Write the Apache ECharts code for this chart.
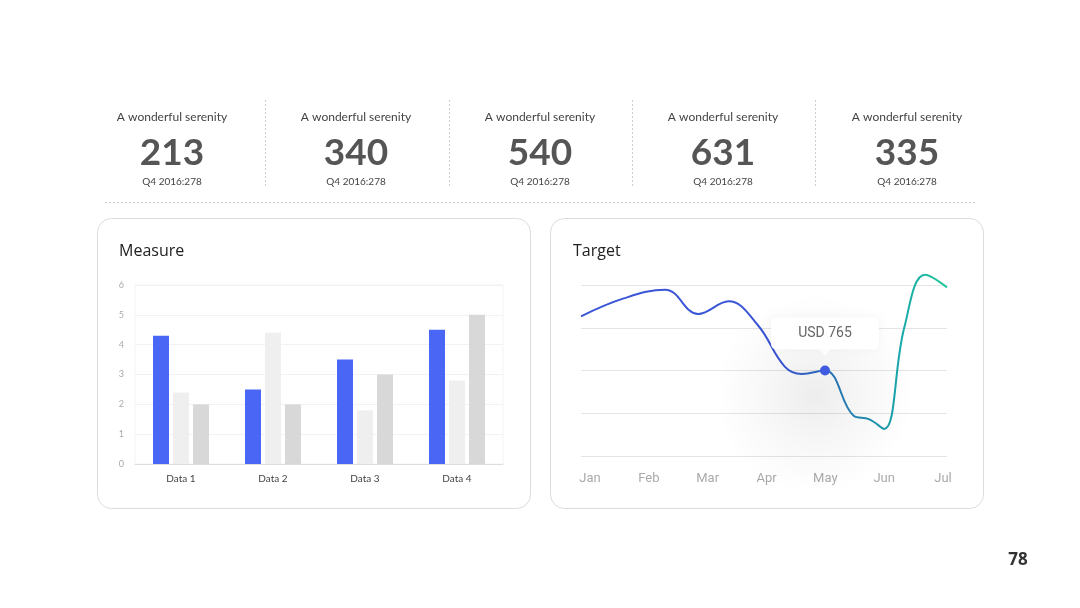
<!doctype html>
<html><head><meta charset="utf-8" />
<style>
  html,body,#app{margin:0;padding:0;width:1080px;height:608px;background:#ffffff}
</style>
<script src="https://cdn.jsdelivr.net/npm/echarts@6/dist/echarts.min.js"></script>
</head><body><div id="app"></div>
<script>
// ---- data ----
const statLabels = ['A wonderful serenity','A wonderful serenity','A wonderful serenity','A wonderful serenity','A wonderful serenity'];
const statValues = ['213','340','540','631','335'];
const statSubs = ['Q4 2016:278','Q4 2016:278','Q4 2016:278','Q4 2016:278','Q4 2016:278'];

const barCategories = ['Data 1','Data 2','Data 3','Data 4'];
const barSeriesA = [4.3, 2.5, 3.5, 4.5];
const barSeriesB = [2.4, 4.4, 1.8, 2.8];
const barSeriesC = [2.0, 2.0, 3.0, 5.0];

const months = ['Jan','Feb','Mar','Apr','May','Jun','Jul'];
// [month position, value]
const targetLine = [
  [0.00,1250],[0.70,1410],[1.38,1488],[1.92,1270],[2.42,1384],[2.90,1170],
  [3.34,800],[3.62,734],[4.0,765],[4.47,360],[4.72,330],[4.97,242],
  [5.30,1150],[5.64,1622],[6.0,1509]
];
const highlightIndex = 8; // May
const pageNumber = '78';

// ---- layout ----
const el = document.getElementById('app');
const chart = echarts.init(el, null, { renderer: 'canvas' });

const graphics = [];
// cards
[[97,218],[550,218]].forEach(function(p){
  graphics.push({ type:'rect', z:-10, shape:{ x:p[0]+0.5, y:p[1]+0.5, width:433, height:290, r:14 },
    style:{ fill:'#ffffff', stroke:'#dcdcdc', lineWidth:1 } });
});
// stats
const colCenters = [172, 356, 540, 723, 907];
statValues.forEach(function(v, i){
  const cx = colCenters[i];
  graphics.push({ type:'text', x:cx, y:117, style:{ text:statLabels[i], align:'center', verticalAlign:'middle',
    font:'12px Lato, "Open Sans", sans-serif', fill:'#444' } });
  graphics.push({ type:'text', x:cx, y:153, style:{ text:v, align:'center', verticalAlign:'middle',
    font:'bold 37px Lato, "Open Sans", sans-serif', fill:'#555' } });
  graphics.push({ type:'text', x:cx, y:182, style:{ text:statSubs[i], align:'center', verticalAlign:'middle',
    font:'10px Lato, "Open Sans", sans-serif', fill:'#444' } });
});
[265, 449, 632, 815].forEach(function(x){
  graphics.push({ type:'line', shape:{ x1:x+0.5, y1:100, x2:x+0.5, y2:188 },
    style:{ stroke:'#cfcfcf', lineWidth:1, lineDash:[2,2] } });
});
graphics.push({ type:'line', shape:{ x1:105, y1:202.5, x2:975, y2:202.5 },
  style:{ stroke:'#cfcfcf', lineWidth:1, lineDash:[2,2] } });
// card titles
graphics.push({ type:'text', x:119, y:251, style:{ text:'Measure', verticalAlign:'middle',
  font:'16px "Open Sans", sans-serif', fill:'#222' } });
graphics.push({ type:'text', x:573, y:251, style:{ text:'Target', verticalAlign:'middle',
  font:'16px "Open Sans", sans-serif', fill:'#222' } });
// page number
graphics.push({ type:'text', x:1018, y:560, style:{ text:pageNumber, align:'center', verticalAlign:'middle',
  font:'bold 17px "Open Sans", sans-serif', fill:'#333' } });

const lineGradient = { type:'linear', x:0, y:0, x2:1, y2:0, colorStops:[
  { offset:0, color:'#3a56d6' }, { offset:0.55, color:'#3a56d6' },
  { offset:0.72, color:'#2580b8' }, { offset:0.86, color:'#17a6ab' }, { offset:1, color:'#22c79a' } ] };
const glow = { type:'radial', x:0.5, y:0.5, r:0.5, colorStops:[
  { offset:0, color:'rgba(0,0,0,0.07)' }, { offset:0.5, color:'rgba(0,0,0,0.03)' }, { offset:1, color:'rgba(0,0,0,0)' } ] };
const hl = targetLine[highlightIndex];

const option = {
  backgroundColor:'#ffffff',
  animation:false,
  graphic: graphics,
  grid:[
    { left:135, right:577, top:285, bottom:144, show:true, borderColor:'#f3f3f3', borderWidth:1 },
    { left:581, right:133, top:285, bottom:152 },
    { left:590, right:137, top:285, bottom:152 }
  ],
  xAxis:[
    { gridIndex:0, type:'category', data:barCategories,
      axisLine:{ lineStyle:{ color:'#dddddd' } }, axisTick:{ show:false },
      axisLabel:{ color:'#444', fontSize:10, margin:10, fontFamily:'Lato, "Open Sans", sans-serif' } },
    { gridIndex:1, type:'value', min:0, max:6, show:false },
    { gridIndex:2, type:'category', data:months, boundaryGap:false,
      axisLine:{ show:false }, axisTick:{ show:false },
      axisLabel:{ color:'#aaaaaa', fontSize:13, margin:16, interval:0, fontFamily:'Roboto, sans-serif' } }
  ],
  yAxis:[
    { gridIndex:0, type:'value', min:0, max:6, interval:1,
      axisLine:{ show:false }, axisTick:{ show:false },
      axisLabel:{ color:'#aaaaaa', fontSize:9, margin:11, fontFamily:'Lato, "Open Sans", sans-serif' },
      splitLine:{ lineStyle:{ color:'#f2f2f2' } } },
    { gridIndex:1, type:'value', min:0, max:1530, interval:382.5,
      axisLine:{ show:false }, axisTick:{ show:false }, axisLabel:{ show:false },
      splitLine:{ lineStyle:{ color:'#e4e4e4' } } },
    { gridIndex:2, type:'value', show:false }
  ],
  series:[
    { type:'bar', xAxisIndex:0, yAxisIndex:0, data:barSeriesA, barWidth:16, barGap:'25%', itemStyle:{ color:'#4a66f5' } },
    { type:'bar', xAxisIndex:0, yAxisIndex:0, data:barSeriesB, barWidth:16, barGap:'25%', itemStyle:{ color:'#efefef' } },
    { type:'bar', xAxisIndex:0, yAxisIndex:0, data:barSeriesC, barWidth:16, barGap:'25%', itemStyle:{ color:'#d8d8d8' } },
    { type:'line', xAxisIndex:1, yAxisIndex:1, data:targetLine, smooth:0.4,
      symbol:'none', clip:false, lineStyle:{ color:lineGradient, width:2 },
      markPoint:{
        data:[
          { coord:hl, symbol:'circle', symbolSize:200, symbolOffset:[-10,24], itemStyle:{ color:glow }, label:{ show:false } },
          { coord:hl, symbol:'triangle', symbolRotate:180, symbolSize:[12,7], symbolOffset:[0,-18], itemStyle:{ color:'#ffffff' }, label:{ show:false } },
          { coord:hl, symbol:'circle', symbolSize:10, itemStyle:{ color:'#3f5be0' },
            label:{ show:true, position:'top', distance:16, formatter:function(){ return 'USD ' + hl[1]; },
              backgroundColor:'#ffffff', padding:[9,27], borderRadius:5, color:'#666', fontSize:14,
              fontFamily:'Roboto, sans-serif', shadowBlur:6, shadowColor:'rgba(0,0,0,0.04)' } }
        ]
      } }
  ]
};
chart.setOption(option);
window.chartReady = true;
</script></body></html>
